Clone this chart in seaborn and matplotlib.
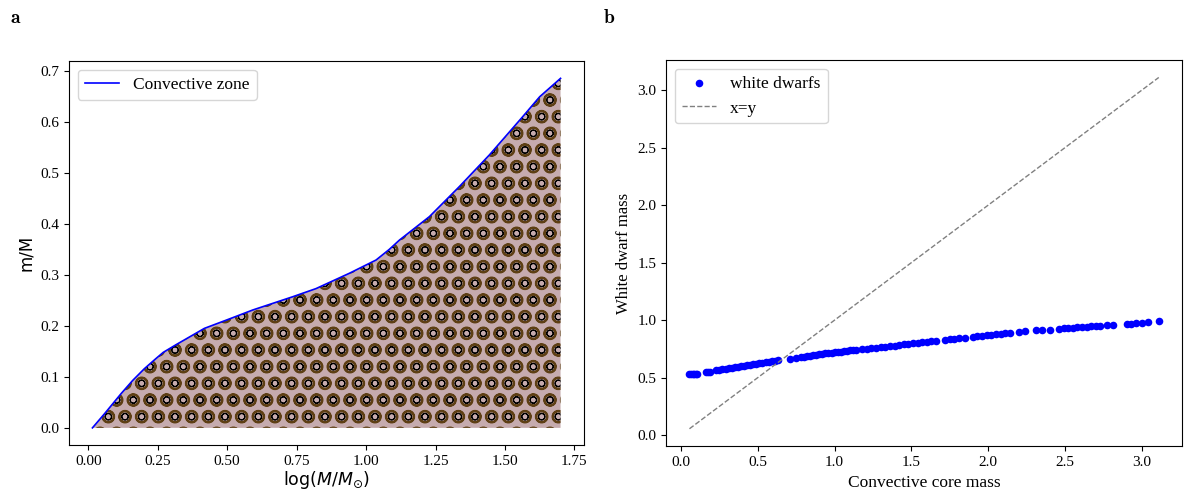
import matplotlib
matplotlib.use("Agg")
import matplotlib.pyplot as plt
import seaborn as sns
import pandas as pd

# Panel a: extent of the convective zone against stellar mass
log_mass = [0.015, 0.059, 0.118, 0.160, 0.202, 0.244, 0.270, 0.316, 0.418, 0.496,
            0.592, 0.736, 0.820, 0.940, 1.036, 1.084, 1.120, 1.228, 1.336, 1.444,
            1.564, 1.625, 1.700]
conv_extent = [0.000, 0.028, 0.067, 0.093, 0.116, 0.136, 0.148, 0.163, 0.195, 0.211,
               0.231, 0.257, 0.273, 0.303, 0.329, 0.350, 0.368, 0.414, 0.473, 0.535,
               0.610, 0.649, 0.685]

# Panel b: white dwarf mass against convective core mass
core_mass = [0.055, 0.065, 0.075, 0.085, 0.095, 0.105,
             0.160, 0.175, 0.190,
             0.23, 0.25, 0.27, 0.29, 0.31, 0.33, 0.35, 0.37, 0.39, 0.41, 0.43,
             0.45, 0.47, 0.49, 0.51, 0.53, 0.55, 0.57, 0.59, 0.61, 0.63,
             0.71,
             0.75, 0.78, 0.80, 0.82, 0.84, 0.86, 0.88, 0.90, 0.92, 0.94,
             0.96, 0.98, 1.00, 1.02, 1.04, 1.06, 1.08, 1.10, 1.12, 1.14,
             1.18, 1.21, 1.24, 1.27, 1.30, 1.33, 1.36, 1.39, 1.42, 1.45,
             1.48, 1.51, 1.54, 1.57, 1.60, 1.63, 1.66, 1.72, 1.75, 1.78,
             1.81, 1.85, 1.90, 1.93, 1.96, 1.99, 2.02, 2.05, 2.08, 2.11, 2.14,
             2.20, 2.24,
             2.31, 2.35, 2.40,
             2.46, 2.49, 2.52, 2.55, 2.58, 2.61, 2.64, 2.67, 2.70, 2.73,
             2.77, 2.81,
             2.90, 2.93, 2.96, 3.00, 3.04,
             3.11]
wd_mass = [0.530, 0.531, 0.532, 0.533, 0.534, 0.535,
           0.545, 0.548, 0.550,
           0.564, 0.568, 0.573, 0.577, 0.581, 0.586, 0.590, 0.594, 0.599, 0.603, 0.607,
           0.612, 0.616, 0.620, 0.625, 0.629, 0.633, 0.637, 0.642, 0.646, 0.650,
           0.665,
           0.672, 0.678, 0.682, 0.686, 0.690, 0.694, 0.698, 0.702, 0.706, 0.710,
           0.713, 0.716, 0.720, 0.723, 0.726, 0.730, 0.733, 0.736, 0.739, 0.742,
           0.748, 0.752, 0.757, 0.761, 0.766, 0.770, 0.775, 0.779, 0.784, 0.788,
           0.793, 0.797, 0.802, 0.806, 0.811, 0.815, 0.820, 0.829, 0.833, 0.838,
           0.842, 0.848, 0.856, 0.860, 0.865, 0.869, 0.874, 0.878, 0.883, 0.887, 0.891,
           0.897, 0.901,
           0.910, 0.914, 0.918,
           0.924, 0.927, 0.930, 0.933, 0.936, 0.939, 0.942, 0.945, 0.947, 0.950,
           0.955, 0.958,
           0.968, 0.970, 0.973, 0.977, 0.980,
           0.995]

plt.rcParams["font.family"] = ["Liberation Serif", "DejaVu Serif"]
plt.rcParams["font.size"] = 11

fig = plt.figure(figsize=(11.84, 4.91), dpi=100)
ax_a = fig.add_axes([0.0583, 0.093, 0.4349, 0.783])
ax_b = fig.add_axes([0.5625, 0.091, 0.436, 0.787])


def hatched_fill(ax, x, y, hatch, face, edge, hlw):
    """Fill under a curve with a circle hatch of the given colour and line width."""
    with plt.rc_context({"hatch.linewidth": hlw}):
        coll = ax.fill_between(x, y, 0, facecolor=face, hatch=hatch,
                               edgecolor=edge, linewidth=0)
        if hasattr(coll, "set_hatch_linewidth"):
            coll.set_hatch_linewidth(hlw)
    return coll


# --- panel a ---
zone = pd.DataFrame({"logM": log_mass, "mM": conv_extent})
hatched_fill(ax_a, zone["logM"], zone["mM"], "O", "#c6abae", "#5e3f14", 1.4)
hatched_fill(ax_a, zone["logM"], zone["mM"], "o", "none", "black", 0.75)

sns.lineplot(data=zone, x="logM", y="mM", ax=ax_a, color="blue", linewidth=1.2,
             sort=False, estimator=None, label="Convective zone")
ax_a.set_xlabel(r"$\log(M/M_{\odot})$", family="DejaVu Sans", fontsize=12.5,
                labelpad=1)
ax_a.set_ylabel("m/M", family="DejaVu Sans", fontsize=12)
ax_a.legend(loc="upper left", fontsize=12.5)
ax_a.margins(x=0.05, y=0.05)

# --- panel b ---
wd = pd.DataFrame({"core": core_mass, "wd": wd_mass})
sns.scatterplot(data=wd, x="core", y="wd", ax=ax_b, color="blue", s=30,
                linewidth=0, label="white dwarfs")
diag = pd.DataFrame({"v": [min(core_mass), max(core_mass)]})
sns.lineplot(data=diag, x="v", y="v", ax=ax_b, color="gray", linewidth=1.0,
             linestyle="--", label="x=y")
ax_b.set_xlabel("Convective core mass", fontsize=12.5)
ax_b.set_ylabel("White dwarf mass", fontsize=12)
ax_b.legend(loc="upper left", fontsize=12.5)

fig.text(0.0135, 0.963, r"$\mathbf{a}$", fontsize=14, math_fontfamily="cm",
         ha="center", va="center")
fig.text(0.5145, 0.963, r"$\mathbf{b}$", fontsize=14, math_fontfamily="cm",
         ha="center", va="center")

fig.savefig("out.png", dpi=100)
